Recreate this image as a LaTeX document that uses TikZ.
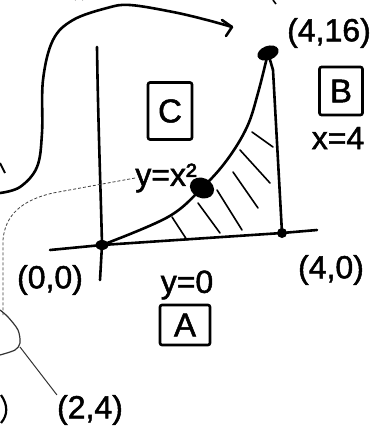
\documentclass[tikz,border=0pt]{standalone}
\usepackage{fontspec}
\setmainfont{Liberation Sans}[FakeBold=1.5]
\usetikzlibrary{shapes.geometric}
\begin{document}
\begin{tikzpicture}[x=1pt,y=-1pt,
  ink/.style={line width=2.6pt,line cap=round,line join=round},
  thinink/.style={line width=1.6pt,line cap=round},
  faint/.style={line width=0.8pt,densely dashed,black!75},
  lbl/.style={inner sep=0pt,font=\fontsize{32}{34}\selectfont},
  boxed/.style={draw,line width=2.6pt,rounded corners=2pt,inner sep=0pt,font=\fontsize{33}{35}\selectfont},
  dot/.style={fill,ellipse,inner sep=0pt}]
\useasboundingbox (0,0) rectangle (384,445);
\fill[white] (0,0) rectangle (384,445);
% points
\node[dot,minimum width=13pt,minimum height=10pt] (O) at (102,245) {};
\node[dot,minimum width=25pt,minimum height=20pt,rotate=-25] (M) at (202,188) {};
\node[dot,minimum width=22pt,minimum height=14pt,rotate=20] (P) at (268,53) {};
\node[dot,minimum width=10pt,minimum height=10pt] (Q) at (282,233) {};
% axes
\coordinate (ytop) at (97,47);
\coordinate (ybot) at (100,280);
\coordinate (xl) at (50,250);
\coordinate (xr) at (317,230);
\draw[ink] (ytop) .. controls (98,120) and (101,200) .. (O.center) -- (ybot);
\draw[ink] (xl) -- (O.center) -- (Q.center) -- (xr);
% curve y=x^2 and line x=4
\draw[ink] plot[smooth,tension=0.6] coordinates {(O.center) (168,217) (M.center) (227,160) (247,127) (258,93) (P.center)};
\draw[ink] (P.center) -- (273,70) -- (Q.center);
% hatching
\draw[thinink] (252,132) -- (273,147);
\draw[thinink] (240,150) -- (270,183);
\draw[thinink] (233,172) -- (258,208);
\draw[thinink] (217,190) -- (242,230);
\draw[thinink] (198,203) -- (220,233);
\draw[thinink] (172,217) -- (187,240);
% labels
\node[lbl] (l416) at (329,33) {(4,16)};
\node[boxed,minimum width=43pt,minimum height=48pt] (B) at (341,91) {B};
\node[lbl] (x4) at (338,138) {x=4};
\node[boxed,minimum width=44pt,minimum height=57pt] (C) at (170,111) {C};
\node[lbl] (yx) at (166,178) {y=x²};
\node[lbl] (l00) at (50,280) {(0,0)};
\node[lbl] (y0) at (187,285) {y=0};
\node[boxed,minimum width=50pt,minimum height=40pt] (A) at (185,325) {A};
\node[lbl] (l40) at (331,270) {(4,0)};
\node[lbl] (l24) at (90,410) {(2,4)};
% big curved arrow to (4,16)
\coordinate (arrowtip) at (232,27);
\draw[ink] plot[smooth,tension=0.6] coordinates {(0,193) (20,187) (37,167) (42,133) (43,80) (53,40) (73,20) (107,8) (130,5) (173,12) (207,20) (arrowtip)};
\draw[ink] (222,20) -- (arrowtip) -- (226,36);
% faint connector from y=x^2 to (2,4)
\coordinate (loopA) at (3,315);
\draw[faint] (yx.west) -- (53,193) .. controls (22,200) and (5,215) .. (3,240) -- (loopA);
\draw[line width=1.2pt,black!80] plot[smooth] coordinates {(0,310) (8,317) (18,330) (20,343) (15,350) (0,355)};
\draw[line width=1pt,black!80] (20,347) -- (l24.north west);
% fragments at the edges
\draw[line width=1.6pt] (75,0) arc[start angle=180,end angle=360,radius=4];
\draw[line width=1.6pt] (273,0) -- (276,4);
\draw[line width=2pt] (0,163) -- (5,173);
\draw[line width=2.2pt] (1,395) .. controls (8,405) and (8,415) .. (1,423);
\end{tikzpicture}
\end{document}
